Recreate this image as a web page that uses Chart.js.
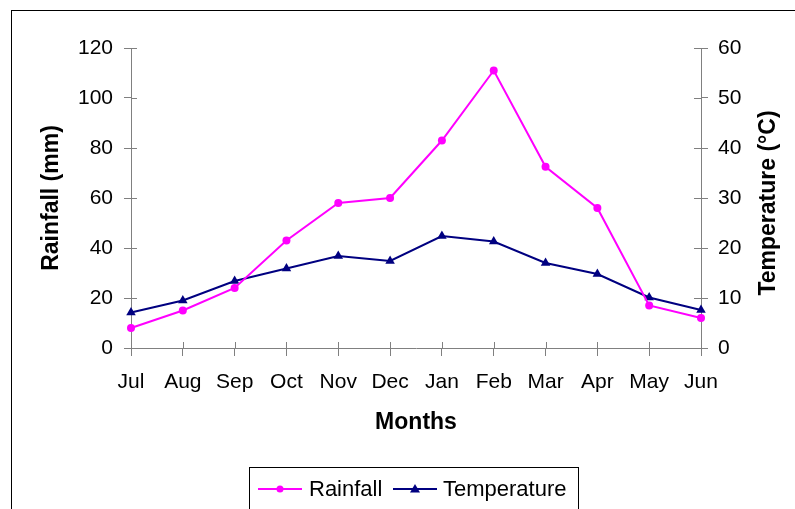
<!DOCTYPE html>
<html>
<head>
<meta charset="utf-8">
<script src="https://cdn.jsdelivr.net/npm/chart.js@4.4.0/dist/chart.umd.min.js"></script>
<style>
  html, body { margin: 0; padding: 0; background: #fff; }
  #wrap { width: 795px; height: 509px; position: relative; }
</style>
</head>
<body>
<div id="wrap"><canvas id="myChart" width="795" height="509"></canvas></div>
<script>
// chart data
const months = ['Jul', 'Aug', 'Sep', 'Oct', 'Nov', 'Dec', 'Jan', 'Feb', 'Mar', 'Apr', 'May', 'Jun'];
const rainfall = [8, 15, 24, 43, 58, 60, 83, 111, 72.5, 56, 17, 12];
const temperature = [7.1, 9.5, 13.4, 15.9, 18.4, 17.4, 22.4, 21.3, 17, 14.8, 10.1, 7.6];
const rainTicks = [0, 20, 40, 60, 80, 100, 120];
const tempTicks = [0, 10, 20, 30, 40, 50, 60];

const axisGrey = '#808080';
const fontFamily = 'Arial, "Liberation Sans", sans-serif';

// outer frame, right axis title (reads bottom-to-top) and tick marks crossing the axis line
const framePlugin = {
    id: 'frame',
    afterDraw(chart) {
        const ctx = chart.ctx;
        ctx.save();
        ctx.strokeStyle = '#000';
        ctx.lineWidth = 1;
        ctx.strokeRect(11.5, 10.5, 800, 520);

        ctx.strokeStyle = axisGrey;
        const y = chart.scales.y;
        y.ticks.forEach((t, i) => {
            const p = Math.round(y.getPixelForTick(i)) + 0.5;
            ctx.beginPath(); ctx.moveTo(y.right, p); ctx.lineTo(y.right + 6, p); ctx.stroke();
        });
        const y2 = chart.scales.y2;
        y2.ticks.forEach((t, i) => {
            const p = Math.round(y2.getPixelForTick(i)) + 0.5;
            ctx.beginPath(); ctx.moveTo(y2.left, p); ctx.lineTo(y2.left - 7, p); ctx.stroke();
        });
        const x = chart.scales.x;
        x.ticks.forEach((t, i) => {
            const p = Math.round(x.getPixelForTick(i)) + 0.5;
            ctx.beginPath(); ctx.moveTo(p, x.top); ctx.lineTo(p, x.top - 6); ctx.stroke();
        });

        // right title
        const area = chart.chartArea;
        ctx.translate(769, (area.top + area.bottom) / 2 + 5);
        ctx.rotate(-Math.PI / 2);
        ctx.font = 'bold 23px ' + fontFamily;
        ctx.fillStyle = '#000';
        ctx.textAlign = 'center';
        ctx.textBaseline = 'middle';
        ctx.fillText('Temperature (°C)', 0, 0);
        ctx.restore();
    }
};

// legend box drawn like the original (line sample with marker)
const legendPlugin = {
    id: 'boxLegend',
    afterDraw(chart) {
        const ctx = chart.ctx;
        ctx.save();
        ctx.strokeStyle = '#000';
        ctx.lineWidth = 1;
        ctx.strokeRect(249.5, 467.5, 329, 45);
        ctx.font = '22px ' + fontFamily;
        ctx.textBaseline = 'middle';
        ctx.fillStyle = '#000';
        const cy = 489;
        const items = [
            { x: 258, textX: 309, ds: chart.data.datasets[0] },
            { x: 393, textX: 443, ds: chart.data.datasets[1] }
        ];
        items.forEach(it => {
            ctx.strokeStyle = it.ds.borderColor;
            ctx.lineWidth = 2;
            ctx.beginPath(); ctx.moveTo(it.x, cy); ctx.lineTo(it.x + 44, cy); ctx.stroke();
            ctx.fillStyle = it.ds.borderColor;
            const mx = it.x + 22;
            if (it.ds.pointStyle === 'circle') {
                ctx.beginPath(); ctx.arc(mx, cy, 3.5, 0, Math.PI * 2); ctx.fill();
            } else {
                ctx.beginPath(); ctx.moveTo(mx, cy - 5); ctx.lineTo(mx + 5, cy + 3.5); ctx.lineTo(mx - 5, cy + 3.5); ctx.closePath(); ctx.fill();
            }
            ctx.fillStyle = '#000';
            ctx.fillText(it.ds.label, it.textX, cy + 1);
        });
        ctx.restore();
    }
};

const tickFont = { family: fontFamily, size: 21 };
const titleFont = { family: fontFamily, size: 23, weight: 'bold' };

new Chart(document.getElementById('myChart').getContext('2d'), {
    type: 'line',
    data: {
        labels: months,
        datasets: [{
            label: 'Rainfall',
            data: rainfall,
            yAxisID: 'y',
            borderColor: '#FF00FF',
            backgroundColor: '#FF00FF',
            borderWidth: 2,
            pointStyle: 'circle',
            pointRadius: 4,
            pointBorderWidth: 0,
            tension: 0
        }, {
            label: 'Temperature',
            data: temperature,
            yAxisID: 'y2',
            borderColor: '#000080',
            backgroundColor: '#000080',
            borderWidth: 2,
            pointStyle: 'triangle',
            pointRadius: 5.5,
            pointBorderWidth: 0,
            tension: 0
        }]
    },
    options: {
        responsive: false,
        animation: false,
        layout: { padding: { left: 38, right: 16, top: 48, bottom: 73 } },
        plugins: {
            legend: { display: false },
            tooltip: { enabled: false }
        },
        scales: {
            x: {
                offset: false,
                afterFit: s => { s.height = 88; },
                grid: { display: true, drawOnChartArea: false, drawTicks: true, tickLength: 8, color: axisGrey },
                border: { color: axisGrey, width: 1 },
                ticks: { color: '#000', font: tickFont, padding: 14, maxRotation: 0, autoSkip: false },
                title: { display: true, text: 'Months', color: '#000', font: titleFont, padding: 0 }
            },
            y: {
                position: 'left',
                min: 0, max: 120,
                afterFit: s => { s.width = 93; },
                afterBuildTicks: s => { s.ticks = rainTicks.map(v => ({ value: v })); },
                grid: { display: true, drawOnChartArea: false, drawTicks: true, tickLength: 7, color: axisGrey },
                border: { color: axisGrey, width: 1 },
                ticks: { color: '#000', font: tickFont, padding: 11 },
                title: { display: true, text: 'Rainfall (mm)', color: '#000', font: titleFont, padding: 0 }
            },
            y2: {
                position: 'right',
                min: 0, max: 60,
                afterFit: s => { s.width = 78; },
                afterBuildTicks: s => { s.ticks = tempTicks.map(v => ({ value: v })); },
                grid: { display: true, drawOnChartArea: false, drawTicks: true, tickLength: 7, color: axisGrey },
                border: { color: axisGrey, width: 1 },
                ticks: { color: '#000', font: tickFont, padding: 10 },
                title: { display: false }
            }
        }
    },
    plugins: [framePlugin, legendPlugin]
});
</script>
</body>
</html>
